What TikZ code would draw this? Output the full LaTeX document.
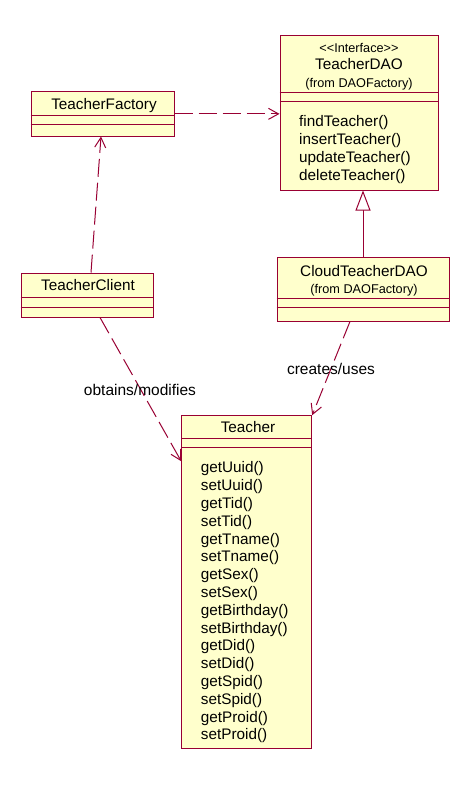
\documentclass[tikz,border=0pt]{standalone}
\usepackage{fontspec}
\setmainfont{Liberation Sans}
\newfontfamily\plainsans{Liberation Sans}
\usetikzlibrary{arrows.meta}
\definecolor{umlred}{RGB}{153,0,51}
\definecolor{umlfill}{RGB}{255,255,204}
\tikzset{
  classbox/.style={draw=umlred, fill=umlfill, line width=1pt, inner sep=0pt, rectangle},
  compline/.style={draw=umlred, line width=1pt},
  nametext/.style={font=\fontsize{15.3}{18}\selectfont, inner sep=0pt, anchor=mid},
  smalltext/.style={font=\plainsans\fontsize{12.7}{15}\selectfont, inner sep=0pt, anchor=mid},
  optext/.style={font=\fontsize{15.3}{18}\selectfont, inner sep=0pt, anchor=mid west},
  labeltext/.style={font=\fontsize{15.5}{18}\selectfont, inner sep=0pt, anchor=mid},
  dep/.style={draw=umlred, line width=1pt, dash pattern=on 18pt off 6pt, -{Straight Barb[length=10pt,width=11pt]}},
  gen/.style={draw=umlred, line width=1pt, -{Triangle[open, length=20pt, width=15pt, fill=white]}}
}
\begin{document}
\begin{tikzpicture}[x=1pt, y=-1pt]
\useasboundingbox (0,0) rectangle (471,785);
\fill[white] (0,0) rectangle (471,785);

% Boxes
\node[classbox, minimum width=158pt, minimum height=155pt] (dao) at (359,112.5) {};
\node[classbox, minimum width=143pt, minimum height=44.3pt] (factory) at (102.5,113.85) {};
\node[classbox, minimum width=132pt, minimum height=44pt] (client) at (87,295) {};
\node[classbox, minimum width=172pt, minimum height=63.3pt] (cloud) at (363,289.35) {};
\node[classbox, minimum width=130pt, minimum height=332.3pt] (teacher) at (246.7,581.85) {};

% Compartment lines
\draw[compline] (dao.west |- 0,92.7) -- (dao.east |- 0,92.7);
\draw[compline] (dao.west |- 0,101.7) -- (dao.east |- 0,101.7);
\draw[compline] (factory.west |- 0,115) -- (factory.east |- 0,115);
\draw[compline] (factory.west |- 0,124) -- (factory.east |- 0,124);
\draw[compline] (client.west |- 0,297) -- (client.east |- 0,297);
\draw[compline] (client.west |- 0,307) -- (client.east |- 0,307);
\draw[compline] (cloud.west |- 0,298) -- (cloud.east |- 0,298);
\draw[compline] (cloud.west |- 0,307.3) -- (cloud.east |- 0,307.3);
\draw[compline] (teacher.west |- 0,438) -- (teacher.east |- 0,438);
\draw[compline] (teacher.west |- 0,447) -- (teacher.east |- 0,447);

% Names
\node[smalltext] (daost) at (359,50) {<<Interface>>};
\node[nametext] (daoname) at (359,67) {TeacherDAO};
\node[smalltext] (daofrom) at (359,85) {(from DAOFactory)};
\node[nametext] (factoryname) at (104,107) {TeacherFactory};
\node[nametext] (clientname) at (88,288) {TeacherClient};
\node[nametext] (cloudname) at (364,273.5) {CloudTeacherDAO};
\node[smalltext] (cloudfrom) at (364,291) {(from DAOFactory)};
\node[nametext] (teachername) at (248,430) {Teacher};

% Operations
\foreach \t [count=\i from 0] in {findTeacher(), insertTeacher(), updateTeacher(), deleteTeacher()}
  \node[optext] (daoop\i) at (299,123.7+18*\i) {\t};
\foreach \t [count=\i from 0] in {getUuid(), setUuid(), getTid(), setTid(), getTname(), setTname(), getSex(), setSex(), getBirthday(), setBirthday(), getDid(), setDid(), getSpid(), setSpid(), getProid(), setProid()}
  \node[optext] (top\i) at (200.7,470.3+17.8*\i) {\t};

% Connectors
\draw[dep] (factory.east) -- (dao.west |- factory.east);
\draw[dep] ([xshift=4pt]client.north) -- ([xshift=-1.5pt]factory.south);
\draw[gen] (cloud.north) -- (cloud.north |- dao.south);
\draw[dep] ([xshift=13pt]client.south) -- ([yshift=-46pt]teacher.north west);
\draw[dep] ([xshift=-13pt]cloud.south) -- (teacher.north east);

% Labels
\node[labeltext] (lbl1) at (140,393) {obtains/modifies};
\node[labeltext] (lbl2) at (331,372) {creates/uses};
\end{tikzpicture}
\end{document}
